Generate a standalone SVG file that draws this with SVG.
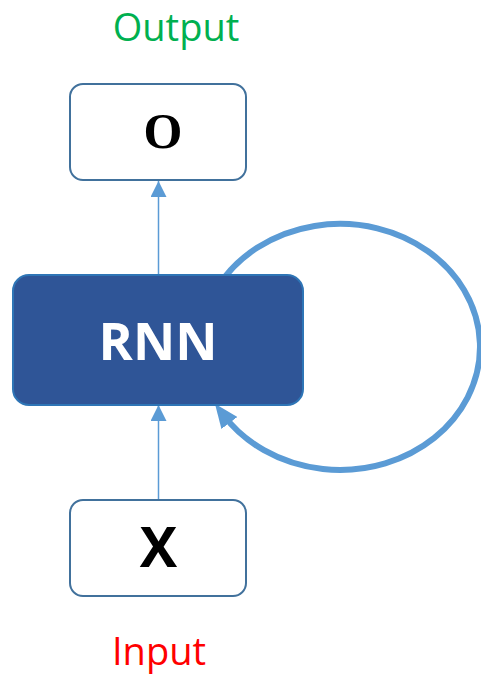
<svg xmlns="http://www.w3.org/2000/svg" width="481" height="676" viewBox="0 0 481 676">
  <style>
    .box { fill: #ffffff; stroke: #41719C; stroke-width: 2; }
    .rnn { fill: #2F5597; stroke: #2E75B6; stroke-width: 2; }
    .wire { fill: none; stroke: #5B9BD5; stroke-width: 1.5; }
    .loop { fill: none; stroke: #5B9BD5; stroke-width: 6; }
    .label { font-family: "Open Sans", "Liberation Sans", sans-serif; font-size: 38px; text-anchor: middle; }
  </style>
  <defs>
    <marker id="head" markerUnits="userSpaceOnUse" markerWidth="16" markerHeight="16" viewBox="0 0 16 16" refX="16" refY="8" orient="auto">
      <path d="M0,0 L16,8 L0,16 z" fill="#5B9BD5"/>
    </marker>
    <marker id="loopHead" markerUnits="userSpaceOnUse" markerWidth="24" markerHeight="20" viewBox="0 0 24 20" refX="10" refY="10" orient="auto">
      <path d="M0,0 L24,10 L0,20 z" fill="#5B9BD5"/>
    </marker>
  </defs>

  <!-- connectors -->
  <g id="connectors">
    <path class="loop" d="M219,285 A140,123 0 1 1 223.4,415" marker-end="url(#loopHead)"/>
    <line class="wire" x1="158.5" y1="275" x2="158.5" y2="181" marker-end="url(#head)"/>
    <line class="wire" x1="158.5" y1="500" x2="158.5" y2="405" marker-end="url(#head)"/>
  </g>

  <g id="output-label">
    <text class="label" x="176" y="41" fill="#00B050">Output</text>
  </g>

  <g id="node-o">
    <rect class="box" x="70" y="84" width="176" height="96" rx="13"/>
    <text x="163" y="148" font-family="'Liberation Serif', serif" font-weight="bold" font-size="50" text-anchor="middle" fill="#000">O</text>
  </g>

  <g id="node-rnn">
    <rect class="rnn" x="13" y="275" width="290" height="130" rx="16"/>
    <text x="158" y="360" font-family="'Open Sans', 'Liberation Sans', sans-serif" font-weight="bold" font-size="52" text-anchor="middle" fill="#ffffff">RNN</text>
  </g>

  <g id="node-x">
    <rect class="box" x="70" y="500" width="176" height="96" rx="13"/>
    <text x="158.5" y="567" font-family="'Open Sans', 'Liberation Sans', sans-serif" font-weight="bold" font-size="56" text-anchor="middle" fill="#000">X</text>
  </g>

  <g id="input-label">
    <text class="label" x="159" y="665" fill="#FF0000">Input</text>
  </g>
</svg>
